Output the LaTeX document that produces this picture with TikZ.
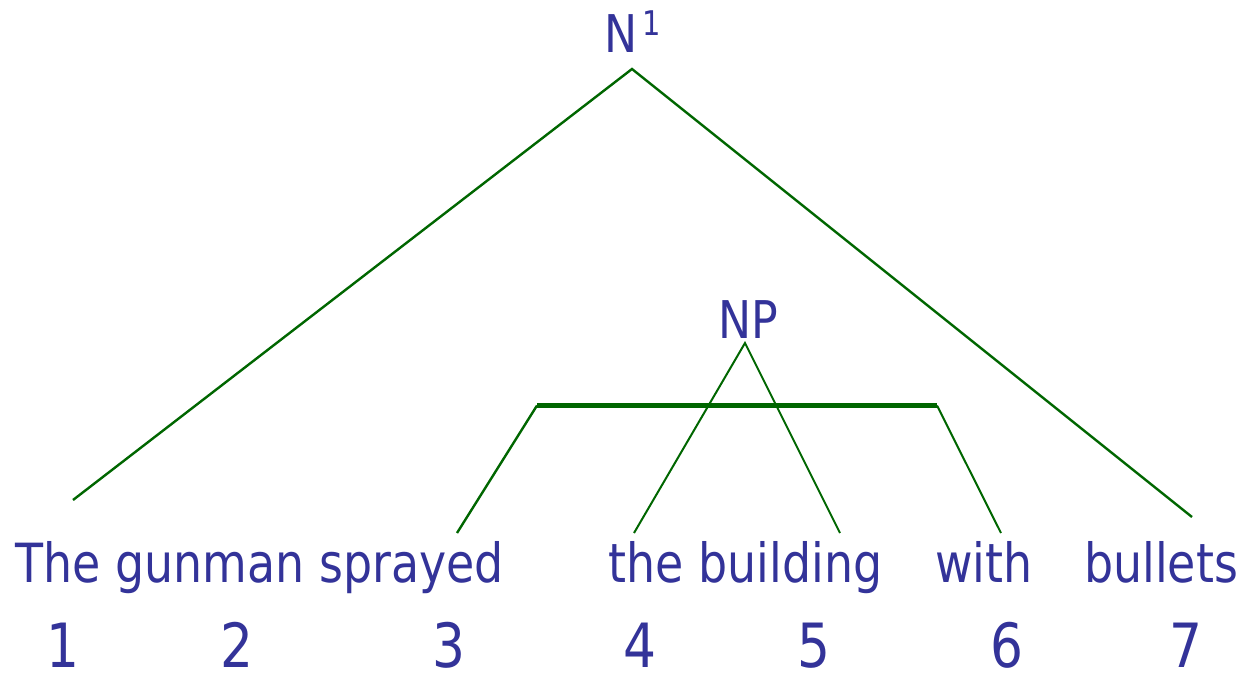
\documentclass[tikz,border=0pt]{standalone}
\usepackage{fontspec}
\setmainfont[FakeStretch=0.85]{DejaVu Sans}
\definecolor{txtblue}{HTML}{333399}
\definecolor{lngreen}{HTML}{006600}
\begin{document}
\begin{tikzpicture}[x=1pt,y=-1pt,
  lbl/.style={text=txtblue,inner sep=0pt,anchor=base,font=\fontsize{54}{60}\selectfont},
  cat/.style={text=txtblue,inner sep=0pt,anchor=base,font=\fontsize{52}{58}\selectfont},
  num/.style={text=txtblue,inner sep=0pt,anchor=base,font=\fontsize{61}{66}\selectfont},
  br/.style={draw=lngreen,line width=2.4pt},
  brthin/.style={draw=lngreen,line width=2pt},
  bar/.style={draw=lngreen,line width=4.5pt}]
\useasboundingbox (0,0) rectangle (1243,673);
% category labels
\node[cat,anchor=base west] (n1) at (604,52) {N\hspace{5pt}\raisebox{17pt}{\fontsize{34}{36}\selectfont 1}};
\node[cat] (np) at (748,338) {NP};
% words
\node[lbl] (w1) at (259.5,582) {The gunman sprayed};
\node[lbl] (w4) at (745.5,582) {the building};
\node[lbl] (w6) at (984,582) {with};
\node[lbl] (w7) at (1161,582) {bullets};
% numbers
\node[num] (d1) at (63,667) {1};
\node[num] (d2) at (237,667) {2};
\node[num] (d3) at (449,667) {3};
\node[num] (d4) at (640,667) {4};
\node[num] (d5) at (814,667) {5};
\node[num] (d6) at (1007,667) {6};
\node[num] (d7) at (1186,667) {7};
% line end points
\coordinate (a1) at (632,69);
\coordinate (l1) at (73,500);
\coordinate (r1) at (1192,517);
\coordinate (a2) at (745,343);
\coordinate (l2) at (634,533);
\coordinate (r2) at (840,533);
\coordinate (bl) at (537,405.5);
\coordinate (brr) at (937,405.5);
\coordinate (bl0) at (457,533);
\coordinate (br0) at (1001,533);
% connectors
\draw[br] (l1) -- (a1) -- (r1);
\draw[brthin] (l2) -- (a2) -- (r2);
\draw[bar] (bl) -- (brr);
\draw[br] (bl0) -- (bl);
\draw[brthin] (brr) -- (br0);
\end{tikzpicture}
\end{document}
